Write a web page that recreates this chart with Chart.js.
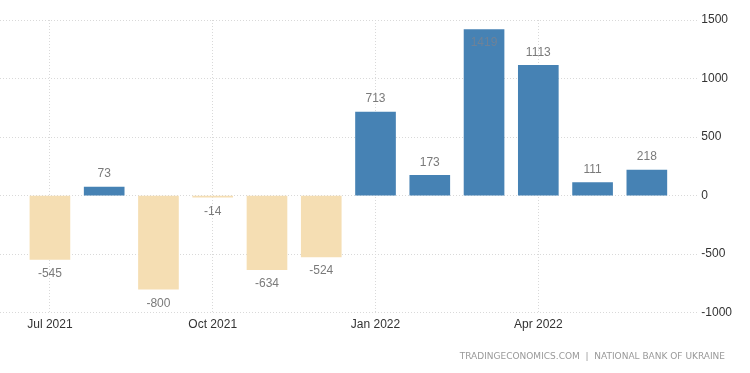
<!DOCTYPE html>
<html lang="en">
<head>
    <meta charset="UTF-8">
    <title>Ukraine - Current Account</title>
    <script src="https://cdn.jsdelivr.net/npm/chart.js"></script>
    <style>
        html, body {
            margin: 0;
            padding: 0;
            background: #ffffff;
        }
        #wrap {
            width: 750px;
            height: 373px;
            position: relative;
        }
    </style>
</head>
<body>
    <div id="wrap">
        <canvas id="myChart" width="750" height="373"></canvas>
    </div>
    <script>
        // monthly values, Jul 2021 .. Jun 2022
        const months = ['Jul 2021', 'Aug 2021', 'Sep 2021', 'Oct 2021', 'Nov 2021', 'Dec 2021',
                        'Jan 2022', 'Feb 2022', 'Mar 2022', 'Apr 2022', 'May 2022', 'Jun 2022'];
        const values = [-545, 73, -800, -14, -634, -524, 713, 173, 1419, 1113, 111, 218];
        const yTicks = [-1000, -500, 0, 500, 1000, 1500];
        const xTickIdx = [0, 3, 6, 9]; // labelled months
        const sourceText = 'TRADINGECONOMICS.COM  |  NATIONAL BANK OF UKRAINE';

        const posColor = '#4682b4';
        const negColor = '#f5deb3';
        const gridColor = '#d9d9d9';

        const points = values.map((v, i) => ({ x: i, y: v }));

        // value labels above / below each bar
        const valueLabels = {
            id: 'valueLabels',
            afterDatasetsDraw(chart) {
                const ctx = chart.ctx;
                const meta = chart.getDatasetMeta(0);
                const area = chart.chartArea;
                ctx.save();
                ctx.font = '12px "Liberation Sans", Arial, sans-serif';
                ctx.textAlign = 'center';
                ctx.textBaseline = 'middle';
                meta.data.forEach((bar, i) => {
                    const v = values[i];
                    let y;
                    ctx.fillStyle = '#7a7a7a';
                    if (v >= 0) {
                        y = bar.y - 13;
                        if (y < area.top + 6) {
                            // no room above, put it inside the bar
                            y = bar.y + 13;
                            ctx.fillStyle = 'rgba(120,130,145,0.8)';
                        }
                    } else {
                        y = bar.y + 14;
                    }
                    ctx.fillText(String(v), bar.x, y);
                });
                ctx.restore();
            }
        };

        const footer = {
            id: 'footer',
            afterDraw(chart) {
                const ctx = chart.ctx;
                ctx.save();
                ctx.font = '9px "DejaVu Sans", Arial, sans-serif';
                ctx.fillStyle = '#999999';
                ctx.textAlign = 'right';
                ctx.textBaseline = 'middle';
                ctx.fillText(sourceText, 725, 357);
                ctx.restore();
            }
        };

        const ctx = document.getElementById('myChart').getContext('2d');
        const myChart = new Chart(ctx, {
            type: 'bar',
            data: {
                datasets: [{
                    data: points,
                    backgroundColor: values.map(v => v >= 0 ? posColor : negColor),
                    borderWidth: 0,
                    barThickness: 40
                }]
            },
            options: {
                responsive: false,
                animation: false,
                layout: {
                    padding: { left: 0, right: 14, top: 20, bottom: 36 }
                },
                plugins: {
                    legend: { display: false },
                    tooltip: { enabled: false }
                },
                scales: {
                    x: {
                        type: 'linear',
                        offset: false,
                        min: -0.92,
                        max: 11.93,
                        afterBuildTicks(scale) {
                            scale.ticks = xTickIdx.map(v => ({ value: v }));
                        },
                        ticks: {
                            color: '#333333',
                            font: { size: 12, family: '"Liberation Sans", Arial, sans-serif' },
                            padding: 5,
                            maxRotation: 0,
                            autoSkip: false,
                            callback: (v) => months[v] || ''
                        },
                        grid: {
                            color: gridColor,
                            drawTicks: false,
                            offset: false
                        },
                        border: { display: false, dash: [1, 2] }
                    },
                    y: {
                        position: 'right',
                        min: -1000,
                        max: 1500,
                        afterBuildTicks(scale) {
                            scale.ticks = yTicks.map(v => ({ value: v }));
                        },
                        ticks: {
                            color: '#333333',
                            font: { size: 12, family: '"Liberation Sans", Arial, sans-serif' },
                            padding: 4,
                            callback: (v) => String(v)
                        },
                        grid: {
                            color: gridColor,
                            drawTicks: false
                        },
                        border: { display: false, dash: [1, 2] }
                    }
                }
            },
            plugins: [valueLabels, footer]
        });
    </script>
</body>
</html>
